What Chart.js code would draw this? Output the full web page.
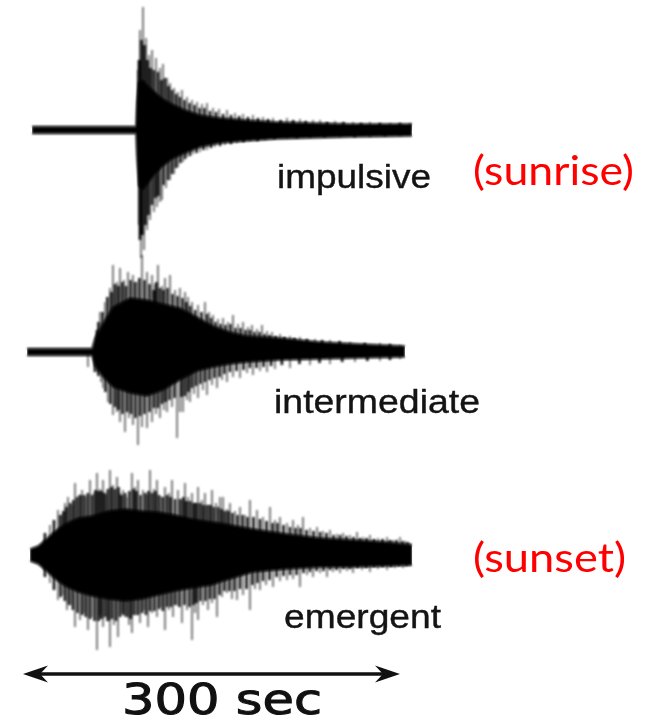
<!DOCTYPE html>
<html>
<head>
<meta charset="utf-8">
<script src="https://cdn.jsdelivr.net/npm/chart.js@4.4.1/dist/chart.umd.min.js"></script>
<style>
  html, body { margin: 0; padding: 0; background: #fff; }
  #wrap { position: relative; width: 666px; height: 728px; }
  canvas { display: block; }
</style>
</head>
<body>
<div id="wrap"><canvas id="seis" width="666" height="728"></canvas></div>
<script>
// Three event types, time in seconds, amplitude in relative counts
const traceNames = ['impulsive', 'intermediate', 'emergent'];
const timeOfDay = ['(sunrise)', '', '(sunset)'];
const scaleBarSeconds = 300;
const scaleBarUnit = 'sec';

// Solid core of each record: [time, upper amplitude, lower amplitude]
const impulsiveCore = [[7.2,3.5,3.5],[89.9,3.5,3.5],[90.7,28,28],[92.3,48,56],[95.5,50,60],[99.5,44,53],[105.0,38,44],[111.4,31,36],[118.6,26,29],[128.9,20,23],[140.9,15,17],[156.8,12,13],[176.7,10,11],[200.5,8,9],[228.4,7,8],[260.2,6,7],[309.6,6,6]];
const intermediateCore = [[3.2,3.5,3.5],[54.9,3.5,3.5],[57.3,14,14],[63.7,29,25],[71.6,45,35],[85.2,54,41],[98.7,52,44],[111.4,48,38],[124.9,44,28],[138.5,35,19],[151.2,26,15],[164.7,20,12],[178.3,16,10],[204.5,14,8],[236.4,10,7],[268.2,8,6],[304.0,6,5]];
const emergentCore = [[5.6,6,6],[11.9,9,9],[17.5,15,15],[25.5,24,24],[33.4,31,31],[43.8,37,37],[54.9,39,41],[67.6,44,44],[81.2,46,46],[94.7,44,44],[107.4,43,40],[121.0,40,36],[134.5,36,33],[150.4,33,30],[156.8,32,27],[183.0,26,17],[210.1,21,14],[236.4,17,12],[262.6,15,12],[289.7,13,11],[309.6,10,10]];

// Tall peaks above and below the trace: [time, amplitude]
const impulsivePeaksUp = [[91.5,60],[93.1,100],[95.5,123],[97.9,92],[100.3,75],[102.7,80],[105.8,72],[109.0,62],[111.4,66],[114.6,52],[117.0,47],[120.2,42],[123.3,38],[126.5,40],[130.5,33],[134.5,30],[138.5,28],[142.4,26],[146.4,27],[151.2,22],[156.0,21],[162.3,20],[168.7,17],[175.1,16],[183.0,15],[191.0,13],[199.0,12],[210.1,12],[220.4,11],[230.8,10],[236.4,10],[248.3,9],[262.6,8],[276.1,8],[292.1,7],[308.0,7]];
const impulsivePeaksDown = [[92.3,95],[93.9,128],[96.3,120],[98.7,100],[101.1,90],[104.2,82],[106.6,77],[109.0,72],[110.6,70],[113.8,58],[117.0,50],[120.2,44],[123.3,37],[127.3,32],[130.5,27],[135.3,24],[140.9,22],[146.4,20],[152.8,17],[160.7,15],[170.3,13],[180.6,11],[192.6,10],[210.1,8],[228.4,8],[252.3,7],[276.1,7],[300.0,6]];

const intermediatePeaksUp = [[61.3,40],[65.3,50],[69.2,64],[71.6,87],[74.8,70],[77.2,84],[80.4,72],[83.6,80],[87.5,77],[90.7,70],[94.7,97],[98.7,80],[102.7,77],[105.0,68],[107.4,87],[110.6,66],[113.0,74],[117.0,77],[121.0,62],[124.9,64],[128.9,60],[131.3,55],[134.5,50],[139.3,47],[144.8,50],[148.0,40],[151.2,37],[155.2,33],[159.2,34],[163.1,30],[167.1,37],[171.1,28],[175.1,30],[179.1,25],[182.2,27],[186.2,23],[190.2,27],[194.2,21],[198.2,20],[204.5,18],[212.5,16],[220.4,15],[232.4,13],[244.3,12],[260.2,10],[284.1,9],[300.0,7]];
const intermediatePeaksDown = [[51.7,15],[62.1,30],[63.7,36],[67.6,50],[71.6,63],[74.8,60],[77.2,70],[81.2,80],[84.4,66],[87.5,73],[91.5,93],[94.7,75],[98.7,76],[102.7,70],[105.8,62],[109.0,66],[112.2,58],[114.6,60],[118.6,55],[122.6,86],[124.9,60],[127.3,60],[130.5,48],[132.9,50],[136.1,42],[139.3,46],[143.2,38],[146.4,43],[150.4,33],[154.4,36],[158.4,28],[162.3,30],[167.1,25],[172.7,26],[178.3,21],[183.0,23],[188.6,19],[194.2,20],[200.5,17],[212.5,16],[228.4,13],[244.3,12],[264.2,10],[284.1,9],[300.0,7]];

const emergentPeaksUp = [[21.5,30],[27.9,45],[31.0,40],[33.4,52],[35.8,58],[39.0,50],[41.4,72],[44.6,60],[47.0,65],[50.1,58],[53.3,75],[56.5,62],[58.9,82],[61.3,66],[63.7,75],[66.1,60],[69.2,85],[71.6,70],[74.8,78],[77.2,62],[79.6,65],[82.8,58],[86.7,82],[89.1,68],[91.5,75],[95.5,65],[98.7,60],[101.1,85],[104.2,66],[106.6,75],[109.8,58],[113.0,68],[116.2,62],[118.6,75],[123.3,65],[126.5,55],[128.9,72],[131.3,58],[134.5,62],[136.9,52],[139.3,68],[142.4,55],[144.8,62],[148.0,50],[150.4,65],[153.6,52],[156.8,58],[159.2,58],[162.3,46],[164.7,52],[168.7,44],[172.7,48],[176.7,40],[180.6,55],[186.2,45],[191.0,38],[196.6,48],[200.5,35],[204.5,38],[210.1,32],[214.9,35],[218.8,30],[222.8,38],[228.4,27],[234.0,28],[238.7,24],[244.3,25],[249.9,21],[254.7,22],[260.2,20],[265.8,23],[270.6,18],[276.1,20],[282.5,17],[289.7,18],[294.4,15],[300.0,18],[304.0,14],[308.0,12]];
const emergentPeaksDown = [[21.5,28],[27.9,45],[31.8,40],[35.0,55],[38.2,50],[41.4,72],[45.4,65],[48.5,58],[51.7,75],[54.9,62],[58.9,95],[61.3,60],[63.7,72],[66.8,66],[69.2,92],[72.4,70],[75.6,82],[78.8,58],[81.2,62],[84.4,70],[86.7,78],[89.9,60],[93.1,68],[96.3,55],[99.5,72],[102.7,58],[106.6,62],[109.8,52],[113.0,75],[116.2,55],[119.4,62],[122.6,50],[126.5,68],[130.5,55],[134.5,85],[136.9,58],[139.3,65],[143.2,50],[147.2,55],[150.4,48],[154.4,62],[158.4,42],[162.3,38],[166.3,44],[170.3,45],[175.1,40],[180.6,55],[184.6,34],[188.6,35],[193.4,30],[199.0,32],[204.5,26],[210.1,25],[214.9,24],[220.4,32],[226.0,20],[230.8,22],[236.4,18],[241.9,22],[246.7,17],[252.3,18],[257.8,16],[262.6,18],[269.8,15],[276.1,17],[282.5,14],[289.7,15],[296.0,13],[302.4,13],[308.0,11]];

// Shorter dark peaks forming the ragged edge of the core: [time, amplitude]
const impulsiveMinorUp = [[92.3,70],[94.3,90],[96.7,85],[99.1,70],[101.5,62],[104.2,60],[107.4,58],[110.2,50],[113.0,52],[115.8,44],[118.6,40],[121.8,36],[124.9,33],[128.5,30],[132.5,27],[136.5,25],[140.5,22],[144.4,22],[148.8,19],[153.6,18],[159.2,16],[165.5,15],[172.0,14],[179.0,13],[187.0,12],[195.0,11],[205.0,10],[215.0,10],[225.0,9],[242.0,8],[255.0,8],[269.0,7],[284.0,7],[300.0,7]];
const impulsiveMinorDown = [[93.1,110],[95.1,105],[97.5,95],[99.9,85],[102.7,75],[105.4,68],[107.8,66],[111.8,55],[115.4,50],[118.6,44],[121.8,38],[125.3,33],[128.9,29],[132.9,26],[138.1,23],[143.6,20],[149.6,18],[156.8,16],[165.5,14],[175.5,12],[186.6,11],[200.0,9],[218.0,8],[240.0,7],[264.0,7],[288.0,6]];

const intermediateMinorUp = [[58.9,22],[60.1,30],[63.3,40],[67.2,55],[70.4,60],[73.2,68],[76.0,66],[79.0,70],[82.0,66],[85.6,72],[89.1,70],[92.7,74],[96.7,72],[100.7,68],[104.0,62],[106.2,70],[109.0,64],[111.8,62],[115.0,64],[119.0,58],[123.0,56],[126.9,54],[130.0,50],[133.0,46],[137.0,42],[142.0,40],[146.4,38],[149.6,34],[153.2,30],[157.2,28],[161.1,27],[165.1,28],[169.1,24],[173.1,24],[177.1,22],[180.6,22],[184.2,20],[188.2,20],[192.2,18],[196.2,17],[201.0,16],[208.0,15],[216.0,14],[226.0,13],[238.0,12],[252.0,11],[272.0,9],[292.0,8]];
const intermediateMinorDown = [[57.3,20],[60.1,24],[65.7,40],[69.6,52],[73.2,55],[76.0,58],[79.2,62],[82.8,60],[86.0,62],[89.5,66],[93.1,64],[96.7,62],[100.7,60],[104.2,56],[107.4,56],[110.6,52],[113.4,50],[116.6,48],[120.6,46],[126.1,45],[128.9,44],[131.7,40],[134.5,36],[137.7,34],[141.2,32],[144.8,30],[148.4,28],[152.4,26],[156.4,25],[160.3,22],[164.7,20],[169.9,19],[175.5,18],[180.6,16],[185.8,16],[191.4,15],[197.4,14],[206.0,13],[220.0,12],[236.0,11],[254.0,10],[274.0,9],[292.0,8]];

const emergentMinorUp = [[17.5,22],[24.7,35],[29.5,40],[32.2,44],[34.6,48],[37.4,52],[40.2,55],[43.0,58],[45.8,60],[48.6,60],[51.7,62],[54.9,60],[57.7,65],[60.1,64],[62.5,64],[64.9,62],[67.6,66],[70.4,68],[73.2,66],[76.0,68],[78.4,60],[81.2,62],[84.8,64],[87.9,66],[90.3,64],[93.5,60],[97.1,62],[99.9,64],[102.7,62],[105.4,64],[108.2,60],[111.4,58],[114.6,60],[117.4,58],[121.0,56],[124.9,56],[127.7,58],[130.1,54],[132.9,54],[135.7,52],[138.1,52],[140.9,52],[143.6,50],[146.4,50],[149.2,50],[152.0,48],[155.2,48],[158.0,46],[160.7,44],[163.5,44],[166.7,42],[170.7,40],[174.7,40],[178.7,38],[183.4,38],[188.6,36],[193.8,34],[198.6,32],[202.5,32],[207.3,30],[212.5,28],[216.9,27],[220.8,27],[225.6,25],[231.2,24],[236.4,23],[241.5,22],[247.1,20],[252.3,20],[257.4,19],[263.0,18],[268.2,17],[273.4,17],[279.3,16],[286.1,16],[292.1,15],[297.2,15],[302.0,14],[306.0,13]];
const emergentMinorDown = [[17.5,22],[24.7,35],[29.9,42],[33.4,46],[36.6,50],[39.8,55],[43.4,58],[47.0,60],[50.1,62],[53.3,64],[57.0,66],[60.1,66],[62.5,64],[65.3,62],[68.0,66],[70.8,64],[74.0,66],[77.2,62],[80.0,60],[82.8,62],[85.6,64],[88.3,60],[91.5,60],[94.7,58],[97.9,60],[101.1,56],[104.6,56],[108.2,54],[111.4,56],[114.6,52],[117.8,52],[121.0,50],[124.5,52],[128.5,50],[132.5,52],[135.7,50],[138.1,48],[141.2,46],[145.2,46],[148.8,44],[152.4,44],[156.4,40],[160.3,36],[164.3,36],[168.3,36],[172.7,34],[177.9,34],[182.6,30],[186.6,28],[191.0,26],[196.2,25],[201.8,22],[207.3,21],[212.5,20],[217.7,20],[223.2,18],[228.4,17],[233.6,16],[239.1,16],[244.3,15],[249.5,15],[255.0,14],[260.2,14],[266.2,13],[273.0,13],[279.3,12],[286.1,12],[292.8,12],[299.2,11],[305.2,11]];

const traces = [
  { axis: 'yImp', core: impulsiveCore, up: impulsivePeaksUp, down: impulsivePeaksDown, minorUp: impulsiveMinorUp, minorDown: impulsiveMinorDown },
  { axis: 'yInt', core: intermediateCore, up: intermediatePeaksUp, down: intermediatePeaksDown, minorUp: intermediateMinorUp, minorDown: intermediateMinorDown },
  { axis: 'yEmg', core: emergentCore, up: emergentPeaksUp, down: emergentPeaksDown, minorUp: emergentMinorUp, minorDown: emergentMinorDown }
];

// Each peak becomes a vertical stroke from the trace line, separated by gaps
function peakPoints(list, sign) {
  const pts = [];
  list.forEach(([t, a]) => {
    pts.push({ x: t, y: 0 }, { x: t, y: sign * a }, { x: t, y: null });
  });
  return pts;
}

function peakSet(list, sign, axis, color, width) {
  return {
    data: peakPoints(list, sign), yAxisID: axis, borderColor: color,
    borderWidth: width, pointRadius: 0, spanGaps: false, fill: false, order: 2
  };
}

const datasets = [];
traces.forEach(tr => {
  datasets.push({
    data: tr.core.map(([t, u]) => ({ x: t, y: u })),
    yAxisID: tr.axis, borderColor: '#000', backgroundColor: '#000',
    borderWidth: 1, pointRadius: 0, tension: 0, fill: '+1', order: 1
  });
  datasets.push({
    data: tr.core.map(([t, u, d]) => ({ x: t, y: -d })),
    yAxisID: tr.axis, borderColor: '#000', backgroundColor: '#000',
    borderWidth: 1, pointRadius: 0, tension: 0, fill: false, order: 1
  });
  datasets.push(peakSet(tr.up, 1, tr.axis, 'rgba(0,0,0,0.6)', 1.7));
  datasets.push(peakSet(tr.down, -1, tr.axis, 'rgba(0,0,0,0.6)', 1.7));
  datasets.push(peakSet(tr.minorUp, 1, tr.axis, 'rgba(0,0,0,0.95)', 2.6));
  datasets.push(peakSet(tr.minorDown, -1, tr.axis, 'rgba(0,0,0,0.95)', 2.6));
});

// Soft ink for the recorded traces
const softInk = {
  id: 'softInk',
  beforeDatasetsDraw(chart) { chart.ctx.save(); chart.ctx.filter = 'blur(0.8px)'; },
  afterDatasetsDraw(chart) { chart.ctx.restore(); }
};

function fitText(ctx, text, x, y, font, color, width, stroke) {
  ctx.save();
  ctx.font = font;
  const w = ctx.measureText(text).width;
  ctx.translate(x, y);
  ctx.scale(width / w, 1);
  ctx.fillStyle = color;
  ctx.textBaseline = 'alphabetic';
  ctx.textAlign = 'left';
  ctx.fillText(text, 0, 0);
  if (stroke) {
    ctx.strokeStyle = color;
    ctx.lineWidth = stroke;
    ctx.strokeText(text, 0, 0);
  }
  ctx.restore();
}

// Trace names, time-of-day notes and the time scale bar
const annotate = {
  id: 'annotate',
  afterDraw(chart) {
    const ctx = chart.ctx;
    const xs = chart.scales.x;
    const nameSpots = [[277, 188, 154], [274, 413, 206], [284, 628, 157]];
    traceNames.forEach((name, i) => {
      const [x, y, w] = nameSpots[i];
      fitText(ctx, name, x, y, '34px "Liberation Sans", Arial, sans-serif', '#141414', w, 0.4);
    });
    const noteSpots = [[473, 185, 161], null, [473, 572, 153]];
    timeOfDay.forEach((note, i) => {
      if (!note) return;
      const [x, y, w] = noteSpots[i];
      fitText(ctx, note, x, y, '40px Lato, "Open Sans", sans-serif', '#ff0000', w, 0);
    });

    // double-headed arrow spanning the scale bar duration
    const x0 = xs.getPixelForValue(0);
    const x1 = xs.getPixelForValue(scaleBarSeconds);
    const yb = 674;
    ctx.save();
    ctx.strokeStyle = '#111';
    ctx.fillStyle = '#111';
    ctx.lineWidth = 3.5;
    ctx.beginPath();
    ctx.moveTo(x0 + 8, yb);
    ctx.lineTo(x1 - 8, yb);
    ctx.stroke();
    [[x0, 1], [x1, -1]].forEach(([x, dir]) => {
      ctx.beginPath();
      ctx.moveTo(x, yb);
      ctx.lineTo(x + dir * 25, yb - 8.5);
      ctx.lineTo(x + dir * 17, yb);
      ctx.lineTo(x + dir * 25, yb + 8.5);
      ctx.closePath();
      ctx.fill();
    });
    ctx.restore();
    fitText(ctx, scaleBarSeconds + ' ' + scaleBarUnit, 122, 714,
      '42px "DejaVu Sans", Verdana, sans-serif', '#111', 200, 1);
  }
};

new Chart(document.getElementById('seis'), {
  type: 'line',
  data: { datasets },
  options: {
    responsive: false,
    animation: false,
    devicePixelRatio: 1,
    events: [],
    layout: { padding: 0 },
    plugins: { legend: { display: false }, tooltip: { enabled: false }, title: { display: false } },
    scales: {
      x: { type: 'linear', min: -18.3, max: 511.7, display: false, offset: false },
      yImp: { type: 'linear', min: -598, max: 130, display: false },
      yInt: { type: 'linear', min: -376, max: 352, display: false },
      yEmg: { type: 'linear', min: -173, max: 555, display: false }
    }
  },
  plugins: [softInk, annotate]
});
</script>
</body>
</html>
